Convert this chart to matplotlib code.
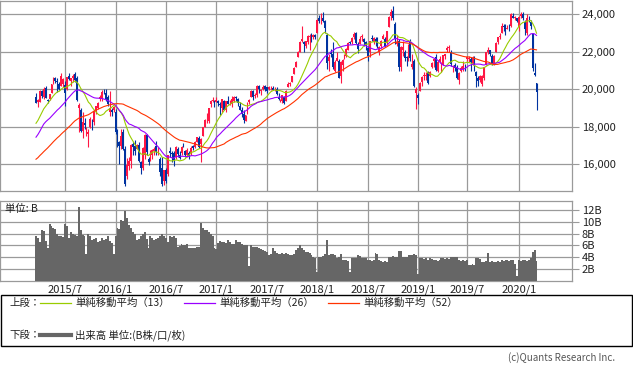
import numpy as np
import pandas as pd
import matplotlib
matplotlib.use("Agg")
import matplotlib.pyplot as plt
from matplotlib.lines import Line2D
from matplotlib.patches import Rectangle

plt.rcParams['font.family'] = ['Noto Sans CJK JP', 'DejaVu Sans']

# ---- weekly closes before the visible window (used only for moving averages) ----
history_close = [14696, 15063, 13960, 14516, 14429, 14457, 14199, 14097, 14462, 14632,
                 15077, 15097, 15349, 15095, 15437, 15164, 15215, 15457, 15523, 14778,
                 15318, 15539, 15425, 15669, 15948, 16321, 16229, 15709, 15300, 14532,
                 15291, 16413, 16880, 17490, 17357, 17459, 17920, 17371, 17621, 17818,
                 17450, 17197, 16864, 17511, 17674, 17648, 17913, 18332, 18797, 18971,
                 19254, 19560]

# ---- visible weekly candles (2015/3 .. 2020/3) ----
open_ = [
    19590, 19300, 19300, 19930, 19570, 20080, 19400, 19500, 19800, 20350,
    20580, 20460, 20300, 20170, 20300, 20250, 20000, 20700, 20450, 20600,
    20800, 20600, 19000, 18900, 17800, 18200, 17700, 17600, 18000, 18300,
    18250, 18900, 19000, 19500, 19500, 19900, 19800, 19600, 18800, 18900,
    18900,
    18800, 17500, 17200, 17000, 17700, 16800, 15400, 15900, 16150, 17100,
    17000, 16800, 17050, 16100, 15800, 16500, 17550, 16300, 16250, 16500,
    16700, 17000, 16600, 16300, 15800, 15100, 15700, 15500, 16700, 16600,
    16600, 16400, 16800, 16500, 16600, 17000, 16700, 16500, 16600, 16600,
    16950, 16900, 17200, 17400, 17100, 17500, 18000, 18400, 18300, 19200,
    19400, 19400,
    19300, 19400, 19200, 19000, 19400, 18900, 19400, 19250, 19200, 19400,
    19600, 19500, 19100, 18900, 18700, 18300, 18700, 19300, 19600, 19900,
    19650, 19700, 20200, 19900, 20000, 20150, 20100, 20000, 20100, 20050,
    19950, 20000, 19600, 19400, 19400, 19600, 19400, 20100, 20300, 20400,
    20800, 21200, 21700, 22000, 22600, 22500, 22300, 22500, 22800, 22900,
    22800, 22900,
    23000, 23800, 23800, 23800, 23650, 22900, 21500, 21900, 21900, 21000,
    21500, 21500, 20700, 21300, 21600, 21800, 22100, 22500, 22500, 22800,
    23000, 22400, 22400, 22800, 22700, 22500, 22200, 22000, 22700, 22500,
    22700, 22600, 22000, 22300, 22700, 22700, 22500, 23300, 23900, 24200,
    23500, 22400, 22600, 21200, 22100, 22000, 21700, 21700, 22500, 21200,
    21500, 19800, 19700,
    19900, 20400, 20700, 20700, 20900, 20700, 21200, 21500, 21700, 21000,
    21500, 21000, 21300, 21800, 22100, 22200, 22000, 21200, 21300, 21200,
    20500, 21000, 21100, 21300, 21600, 21600, 21600, 21400, 21600, 20900,
    20600, 20500, 20300, 20600, 21300, 22000, 22100, 21800, 21400, 22000,
    22500, 22800, 23000, 23400, 23400, 23200, 23400, 23400, 23900, 23800,
    23800,
    23300, 23900, 24000, 23600, 23000, 23700, 23600, 22950, 20850, 20343]

high = [
    19778, 19500, 19950, 19970, 20133, 20150, 19470, 19750, 20290, 20650,
    20655, 20600, 20400, 20868, 20600, 20450, 20650, 20850, 20600, 20800,
    20946, 20700, 19250, 19000, 18770, 18450, 18000, 17900, 18500, 18400,
    18850, 19100, 19300, 19700, 19950, 20012, 20000, 19700, 19900, 19000,
    19100,
    18950, 17900, 17250, 17900, 17900, 17000, 16350, 16400, 17100, 17200,
    17300, 17100, 17200, 16150, 16900, 17600, 17613, 16400, 16750, 16800,
    16900, 17250, 16900, 16400, 16400, 15700, 15800, 16500, 16900, 16700,
    16700, 16950, 16900, 16700, 17000, 17150, 16750, 16850, 16700, 16950,
    17050, 17250, 17450, 17500, 17400, 18000, 18400, 18750, 19000, 19450,
    19600, 19450,
    19615, 19450, 19300, 19500, 19450, 19400, 19650, 19450, 19650, 19650,
    19650, 19550, 19300, 19050, 18900, 18650, 19300, 19500, 19960, 19950,
    19800, 20250, 20240, 20000, 20250, 20250, 20100, 20200, 20200, 20150,
    20100, 20100, 19800, 19500, 19700, 19650, 19950, 20400, 20400, 20700,
    21200, 21500, 22050, 22550, 23382, 22600, 22600, 22900, 22950, 23000,
    22950, 22950,
    23750, 23950, 24084, 24129, 23700, 23000, 21900, 22150, 22500, 21550,
    21968, 21600, 21500, 21600, 21900, 22200, 22500, 22600, 22800, 23050,
    23050, 22500, 22850, 22950, 22750, 22600, 22300, 22600, 22900, 22800,
    22800, 22800, 22300, 22650, 22950, 22800, 23100, 23900, 24286, 24448,
    23600, 22900, 22700, 22300, 22600, 22100, 21800, 22400, 22700, 21900,
    21600, 20100, 19800,
    20400, 20700, 20900, 20900, 20950, 21000, 21450, 21650, 21860, 21550,
    21750, 21450, 21850, 21900, 22300, 22362, 22100, 21300, 21400, 21300,
    20900, 21250, 21500, 21350, 21800, 21750, 21700, 21800, 21800, 20950,
    20700, 20750, 20750, 21200, 22000, 22255, 22100, 21900, 21850, 22500,
    22800, 22980, 23550, 23500, 23500, 23450, 23500, 24050, 24091, 23900,
    23800,
    23900, 24115, 24100, 23700, 23995, 23900, 23700, 23000, 21400, 20350]

low = [
    19250, 19035, 19300, 19550, 19470, 19520, 19260, 19450, 19780, 20300,
    20350, 19850, 19950, 20150, 20100, 19115, 19950, 20500, 20180, 20400,
    20400, 19400, 17714, 17700, 17400, 17900, 17500, 16901, 17950, 17850,
    18100, 18700, 18950, 19400, 19400, 19750, 19400, 19100, 18600, 18550,
    18800,
    17600, 16900, 16017, 16800, 16750, 14865, 15200, 15700, 15800, 16500,
    16500, 16800, 16100, 15471, 15700, 16300, 16500, 15975, 16200, 16300,
    16500, 16500, 16500, 15400, 14864, 14900, 15000, 15400, 16400, 16100,
    15900, 16300, 16400, 16300, 16500, 16900, 16400, 16400, 16300, 16500,
    16750, 16850, 17200, 16850, 16111, 17500, 18000, 18200, 18200, 19050,
    19300, 19050,
    19300, 19100, 18650, 18800, 18900, 18800, 19200, 19150, 19050, 19300,
    19400, 19100, 18900, 18500, 18224, 18300, 18700, 19200, 19600, 19450,
    19550, 19600, 19800, 19700, 19950, 19900, 19800, 19950, 19950, 19950,
    19900, 19700, 19450, 19300, 19280, 19239, 19400, 20100, 20200, 20400,
    20800, 21200, 21700, 22000, 22500, 21972, 22200, 22400, 22119, 22500,
    22700, 22700,
    23000, 23550, 23500, 23600, 23000, 21078, 20950, 21700, 21100, 20937,
    21500, 20600, 20347, 21000, 21600, 21700, 22100, 22400, 22400, 22700,
    22400, 21931, 22400, 22600, 22300, 22100, 21500, 21700, 22600, 22400,
    22300, 22200, 21851, 22200, 22700, 22250, 22400, 23300, 23700, 23700,
    22400, 22300, 20971, 21000, 21800, 21500, 21250, 21500, 21500, 21100,
    20100, 18948, 19241,
    19900, 20200, 20500, 20500, 20300, 20650, 21150, 21200, 20950, 20900,
    21400, 20900, 21300, 21600, 22000, 22000, 21250, 20900, 21000, 20550,
    20289, 20900, 20950, 21000, 21500, 21450, 21000, 21300, 21000, 20110,
    20200, 20400, 20200, 20500, 21300, 21900, 21800, 21300, 21300, 22000,
    22400, 22700, 23000, 23100, 22900, 23200, 23100, 23300, 23800, 23700,
    23600,
    23100, 23800, 23700, 22900, 22900, 23600, 23200, 21000, 20700, 18891]

close = [
    19286, 19435, 19908, 19653, 20020, 19532, 19380, 19733, 20264, 20563,
    20461, 20407, 19990, 20706, 20540, 19780, 20650, 20545, 20585, 20724,
    20519, 19436, 19136, 17792, 18264, 18070, 17880, 17725, 18438, 18291,
    18825, 19083, 19265, 19597, 19880, 19884, 19504, 19230, 18987, 18770,
    19034,
    17698, 17147, 16958, 17518, 16820, 14953, 15967, 16188, 17015, 16939,
    16725, 17003, 16164, 15822, 16848, 17572, 16666, 16106, 16412, 16736,
    16835, 16642, 16601, 15600, 14952, 15682, 15107, 16497, 16627, 16569,
    16254, 16920, 16546, 16360, 16926, 16965, 16519, 16754, 16450, 16860,
    16856, 17185, 17446, 16905, 17375, 17968, 18381, 18426, 18996, 19401,
    19428, 19114,
    19454, 19287, 19137, 19467, 18918, 19379, 19235, 19284, 19469, 19605,
    19522, 19263, 18909, 18665, 18336, 18621, 19197, 19446, 19884, 19591,
    19687, 20178, 20013, 19943, 20133, 20033, 19929, 20119, 20100, 19960,
    19952, 19730, 19470, 19453, 19691, 19275, 19910, 20296, 20356, 20691,
    21155, 21458, 22008, 22539, 22681, 22397, 22551, 22819, 22811, 22553,
    22903, 22765,
    23714, 23654, 23808, 23632, 23274, 21383, 21720, 21893, 21182, 21469,
    21677, 20618, 21454, 21568, 21779, 22163, 22468, 22473, 22758, 22930,
    22451, 22171, 22695, 22852, 22517, 22305, 21788, 22597, 22698, 22712,
    22525, 22298, 22270, 22601, 22865, 22307, 23095, 23870, 24120, 23784,
    22695, 22532, 21185, 22244, 22250, 21680, 21647, 22351, 21679, 21375,
    20166, 20015, 19561,
    20360, 20666, 20774, 20788, 20333, 20900, 21426, 21602, 21025, 21451,
    21627, 21206, 21807, 21871, 22200, 22259, 21345, 21250, 21117, 20601,
    20885, 21117, 21259, 21276, 21746, 21686, 21467, 21658, 21088, 20685,
    20419, 20711, 20704, 21200, 21988, 22079, 21879, 21410, 21799, 22493,
    22800, 22851, 23392, 23303, 23113, 23294, 23354, 24023, 23817, 23838,
    23657,
    23851, 24041, 23827, 23205, 23828, 23688, 23387, 21143, 20750, 19867]

# weekly volume (billion shares)
volume = [
    7.5, 7.3, 6.6, 8.6, 8.4, 6.8, 5.5, 9.6, 9.3, 9.0,
    8.7, 8.0, 7.6, 7.5, 7.4, 9.6, 9.2, 7.2, 8.3, 8.0,
    7.7, 7.6, 12.5, 8.6, 7.7, 7.6, 4.5, 7.9, 7.5, 6.9,
    7.0, 7.2, 6.6, 6.8, 7.3, 6.9, 7.0, 7.6, 6.8, 6.4,
    4.5, 7.6, 8.9, 8.8, 10.3, 10.2, 11.8, 10.6, 9.5, 8.9,
    8.3, 8.0, 6.9, 7.0, 7.6, 8.0, 8.3, 7.0, 5.5, 7.5,
    7.2, 6.9, 7.0, 7.3, 7.5, 8.0, 7.6, 7.2, 6.6, 7.6,
    7.4, 7.6, 7.3, 5.7, 5.9, 6.2, 6.1, 6.0, 6.2, 5.5,
    5.5, 5.6, 5.6, 5.8, 5.7, 9.7, 8.9, 8.6, 8.6, 8.2,
    8.0, 7.5, 5.6, 5.4, 6.4, 6.7, 6.5, 6.6, 6.4, 6.9,
    6.5, 6.2, 6.3, 6.9, 6.5, 6.6, 6.3, 6.1, 6.1, 6.0,
    2.5, 6.0, 5.8, 5.7, 5.8, 5.5, 5.4, 5.2, 5.1, 4.9,
    4.4, 4.5, 5.5, 5.0, 4.7, 4.6, 4.5, 4.7, 4.6, 4.7,
    4.5, 4.3, 4.4, 4.5, 5.2, 5.6, 6.1, 5.5, 5.2, 4.9,
    4.8, 4.7, 4.4, 4.1, 3.8, 1.5, 4.1, 4.0, 4.2, 4.5,
    6.9, 4.4, 4.5, 4.5, 4.4, 3.8, 4.0, 4.5, 3.5, 3.6,
    3.5, 3.4, 1.5, 3.9, 3.9, 3.8, 4.3, 4.2, 3.9, 3.8,
    3.9, 3.5, 3.6, 3.4, 3.5, 4.7, 4.6, 3.5, 3.4, 3.2,
    3.3, 3.1, 4.1, 4.0, 4.2, 4.1, 4.0, 5.0, 5.0, 4.1,
    4.1, 4.0, 4.4, 4.3, 4.4, 4.5, 4.4, 1.2, 3.9, 3.8,
    3.7, 3.8, 3.6, 3.8, 3.7, 3.5, 3.5, 3.4, 3.5, 3.8,
    3.9, 3.7, 3.8, 3.7, 4.1, 4.0, 4.1, 4.0, 3.5, 3.4,
    3.5, 3.3, 3.5, 2.7, 2.6, 2.8, 2.7, 3.8, 3.9, 3.7,
    3.2, 3.1, 3.3, 4.7, 3.2, 3.3, 3.1, 3.2, 3.3, 3.2,
    3.5, 3.4, 3.6, 3.5, 3.4, 3.5, 3.6, 2.9, 0.8, 3.5,
    3.4, 3.6, 3.5, 3.4, 3.6, 3.8, 4.8, 5.2, 3.3]

ma_periods = [13, 26, 52]
ma_colors = ['#99cc00', '#9900ff', '#ff3300']
ma_labels = ['単純移動平均（13）', '単純移動平均（26）', '単純移動平均（52）']
price_ticks = [16000, 18000, 20000, 22000, 24000]
volume_ticks = [2, 4, 6, 8, 10, 12]

# week start dates (first trading day of the week), Golden Week 2019 had no trading
dates = pd.date_range('2015-03-23', '2020-03-09', freq='W-MON')
dates = [d for d in dates if d != pd.Timestamp('2019-04-29')]
dates = [pd.Timestamp('2019-01-04') if d == pd.Timestamp('2018-12-31') else d for d in dates]

n = len(close)
assert len(open_) == n and len(high) == n and len(low) == n and len(volume) == n and len(dates) == n
x = np.arange(n)

all_close = pd.Series(history_close + close, dtype=float)
mas = [all_close.rolling(p).mean().iloc[len(history_close):].to_numpy() for p in ma_periods]

tick_pos, tick_lab = [], []
for i, d in enumerate(dates):
    if d.month in (1, 7) and (i == 0 or dates[i - 1].month != d.month):
        tick_pos.append(i)
        tick_lab.append(f"{d.year}/{d.month}")

W, H = 633, 371
fig = plt.figure(figsize=(W / 100, H / 100), dpi=100)
grid_c = '#9a9a9a'
text_c = '#222222'

x0, x1 = -36 / 1.94, (572 - 36) / 1.94

ax = fig.add_axes([0, 1 - 191 / H, 572 / W, (191 - 0.7) / H])
vax = fig.add_axes([0, 1 - 280.8 / H, 572 / W, (280.8 - 201) / H])

up_c, dn_c = '#ff1744', '#0033a0'
o = np.array(open_, float); c = np.array(close, float)
hi = np.array(high, float); lo = np.array(low, float)
cols = np.where(c >= o, up_c, dn_c)
ax.vlines(x, lo, hi, colors=cols, lw=0.8, zorder=3)
body_h = np.maximum(np.abs(c - o), 25)
ax.bar(x, body_h, bottom=np.minimum(o, c), width=0.95, color=cols, lw=0, zorder=3)
for m, col in zip(mas, ma_colors):
    ax.plot(x, m, color=col, lw=0.8, zorder=4)

ax.set_xlim(x0, x1)
ax.set_ylim(14576, 24725)
ax.set_yticks(price_ticks)
ax.set_yticklabels([f"{v:,}" for v in price_ticks])
ax.set_xticks(tick_pos)
ax.tick_params(axis='x', length=0, labelbottom=False)

vax.bar(x, volume, width=1.0, color='#666666', lw=0, zorder=3)
vax.set_xlim(x0, x1)
vax.set_ylim(0, 13.5)
vax.set_yticks(volume_ticks)
vax.set_yticklabels([f"{v}B" for v in volume_ticks])
vax.set_xticks(tick_pos)
vax.set_xticklabels(tick_lab)
vax.tick_params(axis='x', length=0, pad=2.5, labelsize=8, colors=text_c)
vax.text(0.008, 0.9, '単位: B', transform=vax.transAxes, fontsize=7.5,
         color=text_c, va='center', ha='left', zorder=5)

for a in (ax, vax):
    a.yaxis.tick_right()
    a.tick_params(axis='y', length=5, width=0.8, color=grid_c, pad=2,
                  labelsize=8, labelcolor=text_c)
    a.grid(True, color=grid_c, lw=0.9)
    a.set_axisbelow(True)
    for s in a.spines.values():
        s.set_color(grid_c)
        s.set_linewidth(0.9)

# legend box
fig.add_artist(Rectangle((0.5 / W, 1 - 346 / H), 631.5 / W, (346 - 294.5) / H,
                         transform=fig.transFigure, fill=False, ec='black', lw=1.0))
y1 = 1 - 303 / H
y2 = 1 - 335 / H
fig.text(9 / W, y1, '上段：', fontsize=7.5, va='center', ha='left', color=text_c)
fig.text(9 / W, y2, '下段：', fontsize=7.5, va='center', ha='left', color=text_c)
seg_x = [40, 184, 328]
for sx, col, lab in zip(seg_x, ma_colors, ma_labels):
    fig.add_artist(Line2D([sx / W, (sx + 31) / W], [y1, y1], color=col, lw=0.9,
                          transform=fig.transFigure))
    fig.text((sx + 35) / W, y1, lab, fontsize=7.5, va='center', ha='left', color=text_c)
fig.add_artist(Line2D([40 / W, 71 / W], [y2, y2], color='#666666', lw=3,
                      transform=fig.transFigure))
fig.text(75 / W, y2, '出来高 単位:(B株/口/枚)', fontsize=7.5, va='center', ha='left', color=text_c)

fig.text(615 / W, 1 - 358 / H, '(c)Quants Research Inc.', fontsize=7, va='center',
         ha='right', color='#555555')

fig.savefig('out.png', dpi=100)
